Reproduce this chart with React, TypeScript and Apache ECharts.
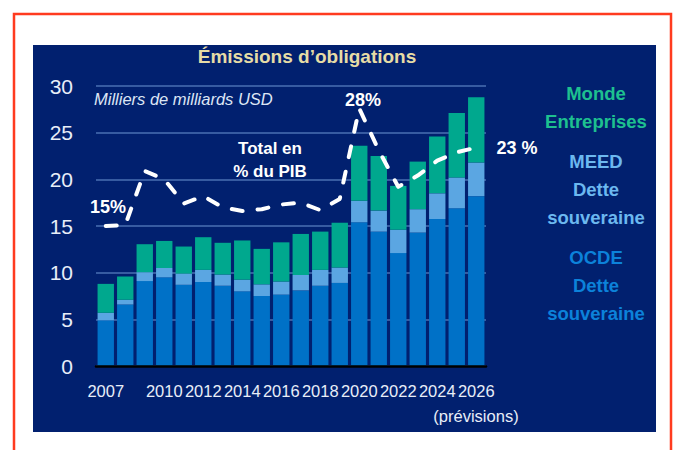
import React, { useEffect, useRef } from "react";
import * as echarts from "echarts";

const years = ["2007","2008","2009","2010","2011","2012","2013","2014","2015","2016","2017","2018","2019","2020","2021","2022","2023","2024","2025","2026"];
const ocde = [4.9, 6.6, 9.1, 9.5, 8.7, 9.0, 8.6, 8.0, 7.5, 7.65, 8.1, 8.6, 8.9, 15.4, 14.4, 12.1, 14.3, 15.75, 16.9, 18.2];
const meed = [0.8, 0.5, 0.95, 1.0, 1.2, 1.3, 1.2, 1.25, 1.25, 1.4, 1.65, 1.7, 1.65, 2.3, 2.25, 2.5, 2.5, 2.75, 3.3, 3.6];
const corp = [3.1, 2.5, 3.0, 2.9, 2.9, 3.5, 3.4, 4.2, 3.8, 4.2, 4.4, 4.1, 4.8, 5.9, 5.85, 4.7, 5.1, 6.1, 6.9, 7.0];
const pctGdp = [15.0, 15.1, 20.9, 20.0, 17.4, 18.2, 17.0, 16.6, 16.8, 17.3, 17.5, 16.7, 17.9, 27.6, 23.1, 19.2, 20.4, 22.0, 22.9, 23.4];
const yTicks = [0, 5, 10, 15, 20, 25, 30];

const FONT = "'Liberation Sans', Arial, sans-serif";
const NAVY = "#01206f";
const GREEN = "#00a88e";
const LIGHT = "#5ba6e2";
const DARK = "#0071c7";

export default function App() {
  const ref = useRef<HTMLDivElement>(null);
  useEffect(() => {
    if (!ref.current) return;
    const chart = echarts.init(ref.current, null, { renderer: "svg" });
    const shownIdx = (i: number) => i === 0 || (i >= 3 && i % 2 === 1);
    chart.setOption({
      animation: false,
      backgroundColor: "#ffffff",
      textStyle: { fontFamily: FONT },
      graphic: [
        { type: "rect", z: -10, shape: { x: 14, y: 14, width: 657, height: 450 }, style: { fill: "#ffffff", stroke: "#ff3b1f", lineWidth: 2.5 } },
        { type: "rect", z: -9, shape: { x: 33, y: 45, width: 623, height: 387 }, style: { fill: NAVY } },
        { type: "text", x: 307, y: 56, style: { text: "Émissions d’obligations", fill: "#e6dca6", font: `bold 19px ${FONT}`, textAlign: "center", textVerticalAlign: "middle" } },
        { type: "text", x: 94, y: 99, style: { text: "Milliers de milliards USD", fill: "#dde6f5", font: `italic 16.5px ${FONT}`, textAlign: "left", textVerticalAlign: "middle" } },
        { type: "text", x: 270, y: 160, style: { text: "Total en\n% du PIB", fill: "#ffffff", font: `bold 17px ${FONT}`, lineHeight: 23, textAlign: "center", textVerticalAlign: "middle" } },
        { type: "text", x: 108, y: 207, style: { text: "15%", fill: "#ffffff", font: `bold 18px ${FONT}`, textAlign: "center", textVerticalAlign: "middle" } },
        { type: "text", x: 363, y: 100, style: { text: "28%", fill: "#ffffff", font: `bold 18px ${FONT}`, textAlign: "center", textVerticalAlign: "middle" } },
        { type: "text", x: 517, y: 148, style: { text: "23 %", fill: "#ffffff", font: `bold 18px ${FONT}`, textAlign: "center", textVerticalAlign: "middle" } },
        { type: "text", x: 596, y: 107, style: { text: "Monde\nEntreprises", fill: "#1ec08f", font: `bold 18.5px ${FONT}`, lineHeight: 28, textAlign: "center", textVerticalAlign: "middle" } },
        { type: "text", x: 596, y: 189, style: { text: "MEED\nDette\nsouveraine", fill: "#6cb8f0", font: `bold 18.5px ${FONT}`, lineHeight: 28, textAlign: "center", textVerticalAlign: "middle" } },
        { type: "text", x: 596, y: 285, style: { text: "OCDE\nDette\nsouveraine", fill: "#0c82da", font: `bold 18.5px ${FONT}`, lineHeight: 28, textAlign: "center", textVerticalAlign: "middle" } },
        { type: "text", x: 476, y: 416, style: { text: "(prévisions)", fill: "#e8eef8", font: `16.5px ${FONT}`, textAlign: "center", textVerticalAlign: "middle" } },
      ],
      grid: { left: 96, right: 189, top: 86, bottom: 84, containLabel: false },
      xAxis: {
        type: "category",
        data: years,
        boundaryGap: true,
        axisTick: { show: false },
        axisLine: { show: true, lineStyle: { color: "#000000", width: 2.5 } },
        axisLabel: {
          interval: (i: number) => shownIdx(i),
          color: "#e8eef8",
          fontSize: 16.5,
          fontFamily: FONT,
          lineHeight: 25,
          margin: 12,
          showMaxLabel: true,
          showMinLabel: true,
          hideOverlap: false,
        },
        z: 5,
      },
      yAxis: {
        type: "value",
        min: 0,
        max: 30,
        interval: 5,
        axisLine: { show: false },
        axisTick: { show: false },
        axisLabel: { color: "#e8eef8", fontSize: 21, fontFamily: FONT, margin: 23, formatter: (v: number) => (yTicks.includes(v) ? String(v) : "") },
        splitLine: { show: true, lineStyle: { color: "#4a6fb2", width: 1.5 } },
      },
      series: [
        { name: "OCDE Dette souveraine", type: "bar", stack: "t", data: ocde, barWidth: "84%", itemStyle: { color: DARK } },
        { name: "MEED Dette souveraine", type: "bar", stack: "t", data: meed, barWidth: "84%", itemStyle: { color: LIGHT } },
        { name: "Monde Entreprises", type: "bar", stack: "t", data: corp, barWidth: "84%", itemStyle: { color: GREEN } },
        {
          name: "Total en % du PIB",
          type: "line",
          data: pctGdp,
          symbol: "none",
          z: 10,
          lineStyle: { color: "#ffffff", width: 4, type: [11, 15], cap: "round", join: "round" },
        },
      ],
    });
    return () => chart.dispose();
  }, []);
  return <div ref={ref} style={{ position: "fixed", left: 0, top: 0, width: 675, height: 450 }} />;
}
